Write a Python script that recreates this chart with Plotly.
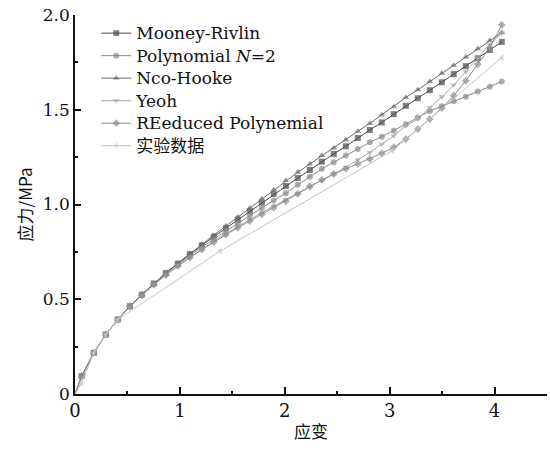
import plotly.graph_objects as go

# strain values (x) for model curves
strain = [0.0, 0.065, 0.179, 0.294, 0.408, 0.523, 0.637, 0.751, 0.866, 0.980, 1.095,
          1.209, 1.323, 1.438, 1.552, 1.667, 1.781, 1.895, 2.010, 2.124, 2.239,
          2.353, 2.467, 2.582, 2.696, 2.811, 2.925, 3.039, 3.154, 3.268, 3.383,
          3.497, 3.611, 3.726, 3.840, 3.955, 4.069]

mooney = [0.0, 0.095, 0.217, 0.314, 0.393, 0.463, 0.525, 0.583, 0.638, 0.688, 0.738,
          0.785, 0.830, 0.875, 0.920, 0.965, 1.010, 1.055, 1.098, 1.140, 1.182,
          1.226, 1.267, 1.307, 1.351, 1.393, 1.433, 1.477, 1.521, 1.561, 1.603,
          1.645, 1.688, 1.730, 1.772, 1.815, 1.858]

poly2 = [0.0, 0.096, 0.217, 0.314, 0.393, 0.463, 0.524, 0.581, 0.635, 0.684, 0.731,
         0.775, 0.818, 0.860, 0.901, 0.942, 0.982, 1.021, 1.060, 1.104, 1.147,
         1.188, 1.223, 1.258, 1.293, 1.328, 1.358, 1.389, 1.424, 1.459, 1.494,
         1.518, 1.545, 1.568, 1.596, 1.622, 1.649]

neo_hooke = [0.0, 0.095, 0.217, 0.314, 0.393, 0.463, 0.525, 0.583, 0.639, 0.690, 0.741,
             0.790, 0.838, 0.886, 0.934, 0.982, 1.030, 1.078, 1.126, 1.170, 1.214,
             1.258, 1.298, 1.342, 1.386, 1.428, 1.474, 1.516, 1.565, 1.605, 1.649,
             1.692, 1.735, 1.778, 1.822, 1.865, 1.907]

yeoh = [0.0, 0.090, 0.215, 0.313, 0.392, 0.461, 0.522, 0.578, 0.630, 0.678, 0.722,
        0.765, 0.806, 0.846, 0.884, 0.921, 0.957, 0.992, 1.026, 1.060, 1.094,
        1.128, 1.162, 1.196, 1.236, 1.275, 1.319, 1.363, 1.416, 1.451, 1.512,
        1.568, 1.630, 1.700, 1.773, 1.846, 1.905]

reduced_poly = [0.0, 0.095, 0.217, 0.314, 0.392, 0.461, 0.521, 0.577, 0.628, 0.676, 0.720,
                0.762, 0.802, 0.840, 0.877, 0.913, 0.948, 0.983, 1.017, 1.056, 1.095,
                1.130, 1.161, 1.188, 1.214, 1.240, 1.270, 1.302, 1.345, 1.398, 1.451,
                1.509, 1.574, 1.653, 1.740, 1.828, 1.948]

exp_strain = [0.0, 0.062, 0.179, 0.294, 0.408, 1.383, 3.026, 4.069]
exp_stress = [0.0, 0.056, 0.217, 0.314, 0.393, 0.754, 1.284, 1.775]

names = ["Mooney-Rivlin", "Polynomial <i>N</i>=2", "Nco-Hooke", "Yeoh",
         "REeduced Polynemial", "实验数据"]
series = [mooney, poly2, neo_hooke, yeoh, reduced_poly]
colors = ["#4a4a4a", "#8a8a8a", "#6a6a6a", "#a8a8a8", "#8e8e8e", "#c4c4c4"]
symbols = ["square", "circle", "triangle-up", "triangle-down", "diamond", "triangle-left"]

x_ticks = [0, 1, 2, 3, 4]
y_ticks = [0, 0.5, 1.0, 1.5, 2.0]
y_tick_text = ["0", "0.5", "1.0", "1.5", "2.0"]


def big(s):
    return '<span style="font-size:17px">' + s + '</span>'


fig = go.Figure()
for name, ys, col, sym in zip(names[:5], series, colors[:5], symbols[:5]):
    sizes = [0] + [6] * (len(ys) - 1)
    fig.add_trace(go.Scatter(
        x=strain, y=ys, name=big(name), mode="lines+markers",
        line=dict(color=col, width=1),
        marker=dict(symbol=sym, size=sizes, color=col, line=dict(width=0)),
        cliponaxis=False,
    ))
exp_sizes = [0] + [6] * (len(exp_stress) - 1)
fig.add_trace(go.Scatter(
    x=exp_strain, y=exp_stress, name=big(names[5]), mode="lines+markers",
    line=dict(color=colors[5], width=1),
    marker=dict(symbol=symbols[5], size=exp_sizes, color=colors[5], line=dict(width=0)),
    cliponaxis=False,
))

serif = "DejaVu Serif"
fig.update_layout(
    width=550, height=458,
    margin=dict(l=75, r=3, t=15, b=64),
    paper_bgcolor="white", plot_bgcolor="white",
    font=dict(family=serif, size=17, color="#111"),
    showlegend=True,
    legend=dict(
        x=0.045, y=0.995, xanchor="left", yanchor="top",
        bgcolor="rgba(0,0,0,0)", borderwidth=0,
        font=dict(family=serif + ", Noto Sans CJK SC", size=15, color="#111"),
        tracegroupgap=0, itemwidth=30,
    ),
    xaxis=dict(
        range=[0, 4.5], tickvals=x_ticks, ticktext=[str(v) for v in x_ticks],
        showgrid=False, zeroline=False, showline=True, linecolor="#111", linewidth=1.5,
        ticks="inside", ticklen=7, tickwidth=1.5, tickcolor="#111",
        minor=dict(dtick=0.5, ticks="inside", ticklen=3, tickwidth=1.5, tickcolor="#111"),
        tickfont=dict(family=serif, size=18),
        title=dict(text="应变", font=dict(family="Noto Sans CJK SC", size=17), standoff=6),
    ),
    yaxis=dict(
        range=[0, 2.0], tickvals=y_ticks, ticktext=y_tick_text,
        showgrid=False, zeroline=False, showline=True, linecolor="#111", linewidth=1.5,
        ticks="inside", ticklen=6, tickwidth=1.5, tickcolor="#111",
        minor=dict(dtick=0.25, ticks="inside", ticklen=3, tickwidth=1.5, tickcolor="#111"),
        tickfont=dict(family=serif, size=17),
        title=dict(text="应力/MPa", font=dict(family="Noto Sans CJK SC, " + serif, size=17), standoff=6),
    ),
)
fig.write_html("out.html")
